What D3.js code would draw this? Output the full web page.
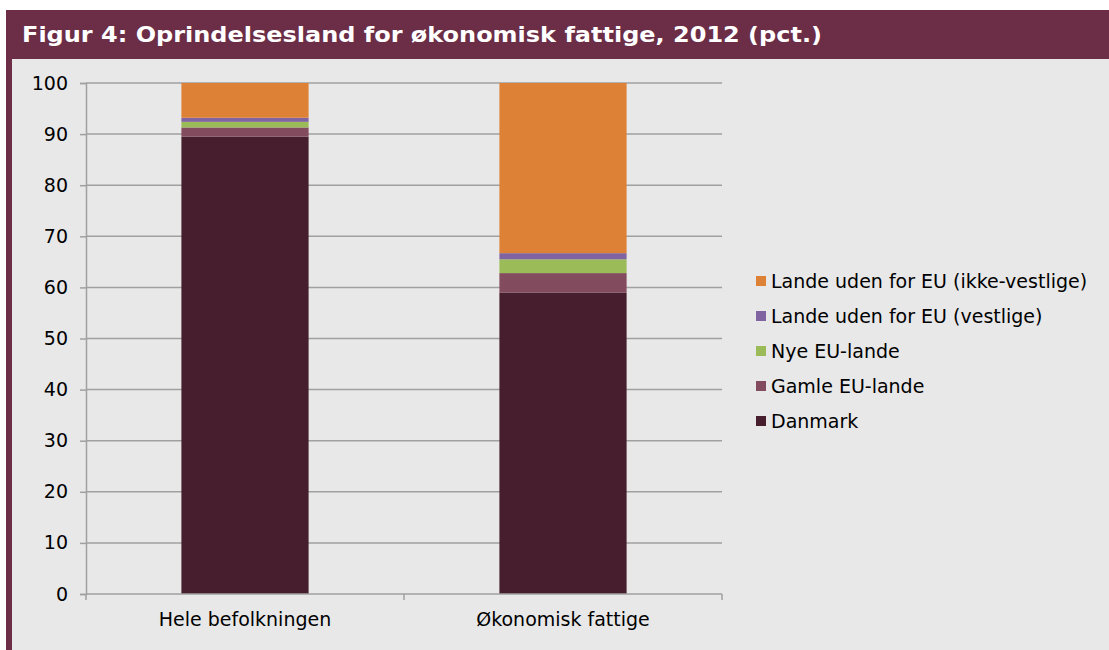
<!DOCTYPE html>
<html>
<head>
<meta charset="utf-8">
<script src="https://cdn.jsdelivr.net/npm/d3@7"></script>
<style>
  body { margin: 0; background: #fff; }
  svg text { font-family: "DejaVu Sans", Verdana, sans-serif; }
</style>
</head>
<body>
<div id="canvas"></div>
<script>
var _width = 1109;
var _height = 650;

var categories = ["Hele befolkningen", "Økonomisk fattige"];
var series = ["Danmark", "Gamle EU-lande", "Nye EU-lande", "Lande uden for EU (vestlige)", "Lande uden for EU (ikke-vestlige)"];
var colors = ["#471e2e", "#834b5e", "#9bbb59", "#8064a2", "#dc8136"];
var danmark  = [89.5, 59.0];
var gamleEU  = [1.8, 3.8];
var nyeEU    = [1.1, 2.7];
var vestlige = [0.8, 1.2];
var ikkeVest = [6.8, 33.3];
var yTicks = [0, 10, 20, 30, 40, 50, 60, 70, 80, 90, 100];

var title = "Figur 4: Oprindelsesland for økonomisk fattige, 2012 (pct.)";

var values = [danmark, gamleEU, nyeEU, vestlige, ikkeVest];
var rows = categories.map(function (c, i) {
    var r = { cat: c };
    series.forEach(function (s, k) { r[s] = values[k][i]; });
    return r;
});
var stacked = d3.stack().keys(series)(rows);

var svg = d3.select('#canvas').append('svg')
    .attr('width', _width)
    .attr('height', _height);

// frame
svg.append('rect').attr('x', 12).attr('y', 59).attr('width', _width - 12).attr('height', _height - 59).attr('fill', '#e8e8e8');
svg.append('rect').attr('x', 6).attr('y', 10).attr('width', _width - 6).attr('height', 49).attr('fill', '#6c2d47');
svg.append('rect').attr('x', 6).attr('y', 10).attr('width', 6).attr('height', _height - 10).attr('fill', '#6c2d47');
svg.append('text')
    .attr('x', 22).attr('y', 42)
    .attr('fill', '#fff')
    .style('font-size', '21px').style('font-weight', 'bold')
    .attr('textLength', 800).attr('lengthAdjust', 'spacingAndGlyphs')
    .text(title);

var x = d3.scaleBand().domain(categories).range([86, 722]).paddingInner(0.6).paddingOuter(0.3);
var y = d3.scaleLinear().domain([0, 100]).range([594, 83]);

var g = svg.append('g');

// grid
g.selectAll('line.grid').data(yTicks.slice(1)).enter().append('line')
    .attr('x1', 86).attr('x2', 722)
    .attr('y1', function (d) { return y(d); }).attr('y2', function (d) { return y(d); })
    .style('stroke', '#a0a0a0').style('stroke-width', '1.5');

// bars
g.selectAll('g.layer').data(stacked).enter().append('g')
    .attr('fill', function (d, i) { return colors[i]; })
    .selectAll('rect').data(function (d) { return d; }).enter().append('rect')
    .attr('x', function (d) { return x(d.data.cat); })
    .attr('width', x.bandwidth())
    .attr('y', function (d) { return y(d[1]); })
    .attr('height', function (d) { return y(d[0]) - y(d[1]); });

// y axis
var yAxis = d3.axisLeft(y).tickValues(yTicks).tickSize(6).tickPadding(12);
var ya = svg.append('g').attr('transform', 'translate(86,0)').call(yAxis);
ya.select('.domain').attr('stroke', '#a0a0a0').attr('stroke-width', 1.5);
ya.selectAll('line').attr('stroke', '#a0a0a0').attr('stroke-width', 1.5);
ya.selectAll('text').style('font-size', '19px').attr('fill', '#000').attr('font-family', 'DejaVu Sans');

// x axis
var xa = svg.append('g').attr('transform', 'translate(0,' + y(0) + ')');
xa.append('line').attr('x1', 86).attr('x2', 722).attr('stroke', '#a0a0a0').attr('stroke-width', 1.5);
xa.selectAll('line.tick').data([86, 404, 722]).enter().append('line')
    .attr('x1', function (d) { return d; }).attr('x2', function (d) { return d; })
    .attr('y1', 0).attr('y2', 6)
    .attr('stroke', '#a0a0a0').attr('stroke-width', 1.5);
xa.selectAll('text').data(categories).enter().append('text')
    .attr('x', function (d) { return x(d) + x.bandwidth() / 2; })
    .attr('y', 32)
    .attr('text-anchor', 'middle')
    .style('font-size', '19px')
    .text(function (d) { return d; });

// legend
var leg = svg.append('g').attr('transform', 'translate(756,281)');
var items = series.slice().reverse();
var legColors = colors.slice().reverse();
items.forEach(function (s, i) {
    leg.append('rect').attr('x', 0).attr('y', i * 35 - 5).attr('width', 10).attr('height', 10).attr('fill', legColors[i]);
    leg.append('text').attr('x', 15).attr('y', i * 35 + 7).style('font-size', '19px').text(s);
});
</script>
</body>
</html>
